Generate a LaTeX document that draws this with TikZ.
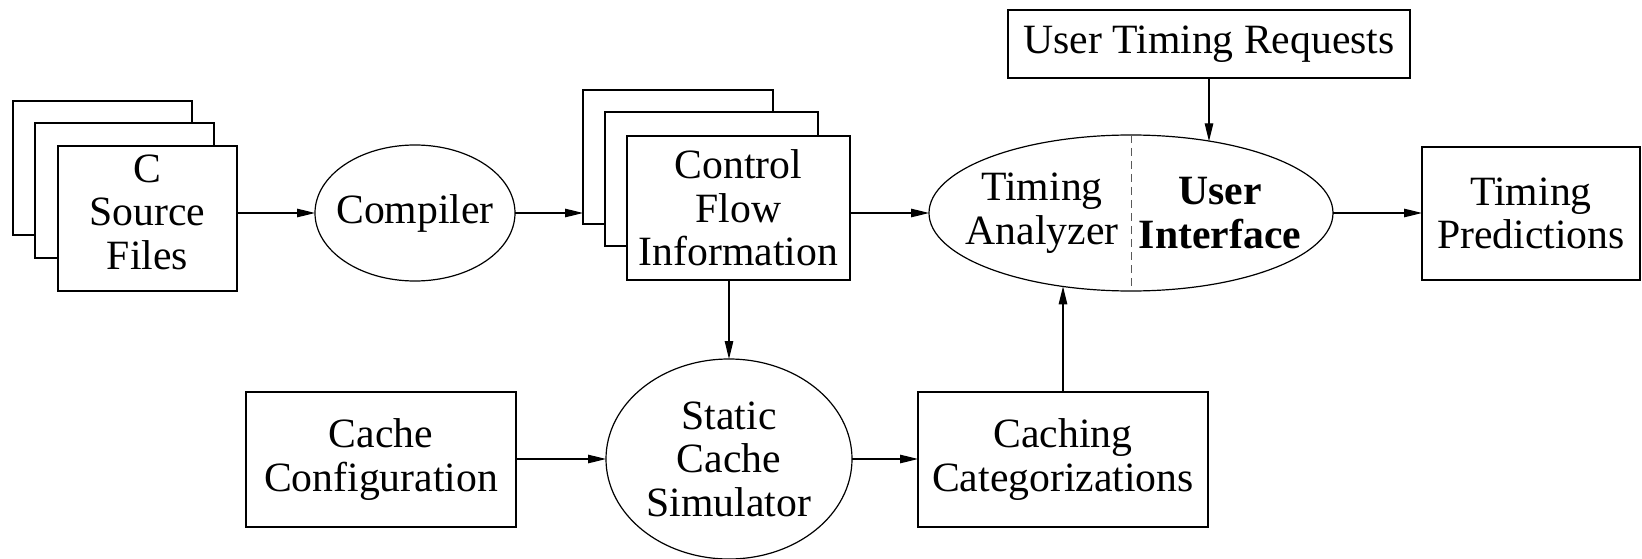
\documentclass[tikz,border=0pt]{standalone}
\usepackage{fontspec}
\setmainfont{Liberation Serif}
\usetikzlibrary{arrows.meta,shapes.geometric}
\begin{document}
\begin{tikzpicture}[x=1pt,y=-1pt,
  every node/.style={font=\fontsize{41.7}{43.5}\selectfont},
  box/.style={draw, line width=1.2pt, rectangle, inner sep=0pt, outer sep=0pt, align=center, fill=white},
  oval/.style={draw, line width=1.2pt, ellipse, inner sep=0pt, outer sep=0pt},
  txt/.style={align=center, inner sep=0pt},
  arr/.style={line width=1.2pt, -{Triangle[length=18pt,width=8.5pt]}},
]
\useasboundingbox (0,0) rectangle (1642,559);

% C source files (stack)
\node[box, minimum width=179pt, minimum height=134pt] (srcA) at (102.5,168) {};
\node[box, minimum width=179pt, minimum height=135pt] (srcB) at (124.5,190.5) {};
\node[box, minimum width=179pt, minimum height=145pt] (src) at (147.5,218.5) {};
\node[txt] (srcT) at (147.5,212) {C\\Source\\Files};

% Compiler
\node[oval, minimum width=200pt, minimum height=136pt] (comp) at (415,213) {};
\node[txt] (compT) at (comp.center) {Compiler};

% Control flow information (stack)
\node[box, minimum width=190pt, minimum height=134pt] (cfiA) at (678,157) {};
\node[box, minimum width=213pt, minimum height=134pt] (cfiB) at (711.5,179) {};
\node[box, minimum width=223pt, minimum height=144pt] (cfi) at (738.5,208) {Control\\Flow\\Information};

% User timing requests
\node[box, minimum width=402pt, minimum height=68pt] (utr) at (1209,44) {User Timing Requests};

% Timing analyzer / user interface
\node[oval, minimum width=404pt, minimum height=156pt] (ta) at (1131,213) {};
\node[txt] (taL) at (1042,213) {Timing\\Analyzer};
\node[txt, font=\fontsize{41.7}{43.5}\selectfont\bfseries] (taR) at (1220,213) {User\\Interface};
\draw[line width=1pt, draw=black!65, dash pattern=on 8pt off 5pt] (ta.north) -- (ta.south);

% Timing predictions
\node[box, minimum width=218pt, minimum height=133pt] (tp) at (1531,213.5) {Timing\\Predictions};

% Bottom row
\node[box, minimum width=270pt, minimum height=135pt] (ccfg) at (381,459.5) {Cache\\Configuration};
\node[oval, minimum width=246pt, minimum height=200pt] (scs) at (729,459) {};
\node[txt] (scsT) at (scs.center) {Static\\Cache\\Simulator};
\node[box, minimum width=290pt, minimum height=135pt] (ccat) at (1063,459.5) {Caching\\Categorizations};

% Connectors
\draw[arr] (src.east |- comp.west) -- (comp.west);
\draw[arr] (comp.east) -- (cfiA.west |- comp.east);
\draw[arr] (cfi.east |- ta.west) -- (ta.west);
\draw[arr] (ta.east) -- (tp.west |- ta.east);
\draw[arr] (utr.south) -- (utr.south |- ta.42.7);
\draw[arr] (cfi.south -| scs.north) -- (scs.north);
\draw[arr] (ccfg.east |- scs.west) -- (scs.west);
\draw[arr] (scs.east) -- (ccat.west |- scs.east);
\draw[arr] (ccat.north) -- (ccat.north |- ta.227.2);
\end{tikzpicture}
\end{document}
